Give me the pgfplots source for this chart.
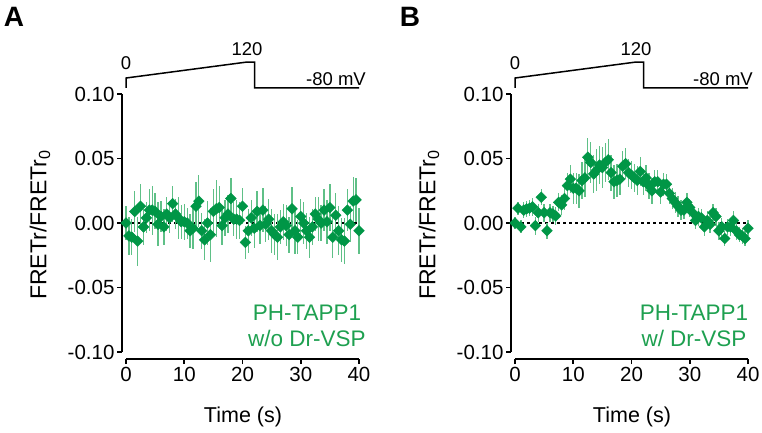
\documentclass[border=0pt]{standalone}
\usepackage{fontspec}
\setmainfont{Liberation Sans}
\usepackage{pgfplots}
\pgfplotsset{compat=1.18}
\usepackage{pgfplotstable}
\definecolor{mk}{RGB}{0,150,70}
\definecolor{eb}{RGB}{95,192,135}
\definecolor{gt}{RGB}{30,160,80}

\pgfplotstableread{
t y e
0 0.000 0.013
0.5 -0.010 0.015
1.0 -0.011 0.014
1.5 0.009 0.016
2.0 -0.014 0.019
2.5 0.013 0.017
3.0 -0.003 0.014
3.5 0.004 0.012
4.0 0.010 0.016
4.5 0.010 0.019
5.0 0.009 0.014
5.5 -0.001 0.017
6.0 0.005 0.012
6.5 -0.003 0.014
7.0 0.007 0.013
7.5 0.004 0.012
8.0 0.015 0.014
8.5 0.007 0.012
9.0 0.004 0.016
9.5 0.001 0.013
10.0 0.001 0.014
10.5 0.000 0.012
11.0 -0.006 0.013
11.5 -0.004 0.016
12.0 0.013 0.019
12.5 0.017 0.020
13.0 -0.006 0.014
13.5 -0.013 0.016
14.0 0.000 0.017
14.5 -0.009 0.021
15.0 0.009 0.017
15.5 0.011 0.022
16.0 0.012 0.017
16.5 -0.002 0.015
17.0 0.004 0.014
17.5 0.007 0.015
18.0 0.019 0.016
18.5 0.003 0.013
19.0 0.003 0.015
19.5 0.002 0.014
20.0 0.013 0.014
20.5 -0.015 0.013
21.0 -0.006 0.017
21.5 0.004 0.014
22.0 -0.004 0.015
22.5 0.009 0.016
23.0 -0.002 0.014
23.5 0.010 0.017
24.0 -0.001 0.014
24.5 0.003 0.016
25.0 -0.006 0.017
25.5 -0.009 0.016
26.0 -0.011 0.018
26.5 -0.003 0.013
27.0 0.001 0.014
27.5 -0.002 0.016
28.0 -0.009 0.014
28.5 0.011 0.017
29.0 -0.006 0.018
29.5 -0.011 0.013
30.0 0.005 0.014
30.5 0.000 0.016
31.0 -0.006 0.014
31.5 -0.011 0.016
32.0 -0.003 0.014
32.5 0.007 0.013
33.0 0.003 0.017
33.5 0.000 0.014
34.0 0.010 0.016
34.5 0.001 0.017
35.0 0.012 0.018
35.5 -0.011 0.016
36.0 0.006 0.017
36.5 -0.006 0.019
37.0 -0.013 0.017
37.5 -0.014 0.018
38.0 0.010 0.016
38.5 -0.001 0.014
39.0 0.017 0.019
39.5 0.018 0.017
40.0 -0.006 0.018
}\dataA

\pgfplotstableread{
t y e
0 0.000 0.005
0.5 0.0115 0.005
1.0 -0.003 0.005
1.5 0.010 0.006
2.0 0.011 0.006
2.5 0.0115 0.006
3.0 0.0125 0.007
3.5 -0.002 0.007
4.0 0.008 0.007
4.5 0.020 0.006
5.0 0.008 0.007
5.5 -0.006 0.006
6.0 0.008 0.007
6.5 0.007 0.006
7.0 0.0055 0.007
7.5 0.016 0.007
8.0 0.014 0.008
8.5 0.019 0.009
9.0 0.029 0.010
9.5 0.034 0.011
10.0 0.027 0.012
10.5 0.027 0.012
11.0 0.025 0.013
11.5 0.033 0.014
12.0 0.035 0.015
12.5 0.051 0.015
13.0 0.047 0.016
13.5 0.038 0.015
14.0 0.041 0.016
14.5 0.045 0.015
15.0 0.043 0.016
15.5 0.047 0.015
16.0 0.049 0.016
16.5 0.039 0.014
17.0 0.032 0.013
17.5 0.033 0.013
18.0 0.034 0.012
18.5 0.044 0.012
19.0 0.046 0.012
19.5 0.039 0.011
20.0 0.037 0.011
20.5 0.035 0.011
21.0 0.033 0.011
21.5 0.040 0.011
22.0 0.032 0.010
22.5 0.035 0.010
23.0 0.029 0.010
23.5 0.025 0.010
24.0 0.032 0.009
24.5 0.032 0.009
25.0 0.024 0.009
25.5 0.030 0.009
26.0 0.030 0.008
26.5 0.023 0.008
27.0 0.019 0.008
27.5 0.016 0.008
28.0 0.013 0.008
28.5 0.010 0.008
29.0 0.010 0.007
29.5 0.016 0.007
30.0 0.012 0.007
30.5 0.008 0.007
31.0 0.002 0.007
31.5 0.005 0.007
32.0 0.004 0.007
32.5 -0.003 0.007
33.0 0.002 0.007
33.5 -0.001 0.007
34.0 0.008 0.007
34.5 0.005 0.007
35.0 -0.006 0.007
35.5 -0.003 0.007
36.0 -0.012 0.006
36.5 -0.003 0.006
37.0 -0.003 0.007
37.5 0.002 0.007
38.0 -0.006 0.007
38.5 -0.009 0.006
39.0 -0.010 0.006
39.5 -0.012 0.006
40.0 -0.004 0.006
}\dataB

\pgfplotsset{prism/.style={
  scale only axis, width=237pt, height=265pt, anchor=south west,
  xmin=-0.69, xmax=40, ymin=-0.1054, ymax=0.10,
  axis x line*=bottom, axis y line*=left, axis line style={draw=none},
  xtick={0,10,20,30,40},
  ytick={-0.1,-0.05,0,0.05,0.1},
  yticklabels={-0.10,-0.05,0.00,0.05,0.10},
  tick align=outside, major tick length=5pt,
  tick style={black, line width=1.8pt},
  clip=false,
  ticklabel style={font=\fontsize{20.5}{22}\selectfont},
  yticklabel style={xshift=1pt},
  /pgf/number format/assume math mode=true,
}}

\newcommand{\panel}[1]{%
  \addplot[black, dash pattern=on 3pt off 3pt, line width=1.4pt] coordinates {(0,0) (40,0)};
  \addplot[black, line width=1.5pt] coordinates {(0,0.1047) (0,0.1124) (20.8,0.1248) (22.1,0.1248) (22.1,0.1047) (40,0.1047)};
  \addplot[only marks, mark=square*, mark size=3.8pt, mark options={rotate=45, fill=mk, draw=mk},
    error bars/.cd, y dir=both, y explicit, error mark=none,
    error bar style={eb, line width=1.3pt}] table[x=t, y=y, y error=e]{#1};
  \draw[line width=2pt] (axis cs:-0.69,-0.1) -- (axis cs:-0.69,0.1);
  \draw[line width=2pt] (axis cs:0,-0.1054) -- (axis cs:40,-0.1054);
}

\begin{document}
\begin{tikzpicture}
\path[use as bounding box] (0pt,0pt) rectangle (762pt,-432pt);

\begin{axis}[prism, at={(122pt,-359pt)}]
\panel{\dataA}
\end{axis}

\begin{axis}[prism, at={(511pt,-359pt)}]
\panel{\dataB}
\end{axis}

% panel letters
\node[font=\fontsize{28}{30}\selectfont\bfseries] at (14pt,-17pt) {A};
\node[font=\fontsize{28}{30}\selectfont\bfseries] at (410pt,-17pt) {B};

% protocol labels
\begin{scope}[every node/.style={font=\fontsize{18.5}{20}\selectfont}]
\node at (126pt,-63pt) {0};
\node at (247pt,-49pt) {120};
\node at (336pt,-79pt) {-80 mV};
\node at (515pt,-63pt) {0};
\node at (636pt,-49pt) {120};
\node at (723pt,-79pt) {-80 mV};
\end{scope}

% axis labels
\node[font=\fontsize{21.5}{23}\selectfont] at (243pt,-417pt) {Time (s)};
\node[font=\fontsize{21.5}{23}\selectfont] at (632pt,-417pt) {Time (s)};
\node[font=\fontsize{23}{25}\selectfont, rotate=90] at (40pt,-225pt) {FRETr/FRETr\textsubscript{0}};
\node[font=\fontsize{23}{25}\selectfont, rotate=90] at (429pt,-225pt) {FRETr/FRETr\textsubscript{0}};

% green annotations
\node[font=\fontsize{22.5}{26}\selectfont, text=gt, align=center] at (307pt,-326pt) {PH-TAPP1\\w/o Dr-VSP};
\node[font=\fontsize{22.5}{26}\selectfont, text=gt, align=center] at (694pt,-326pt) {PH-TAPP1\\w/ Dr-VSP};
\end{tikzpicture}
\end{document}
